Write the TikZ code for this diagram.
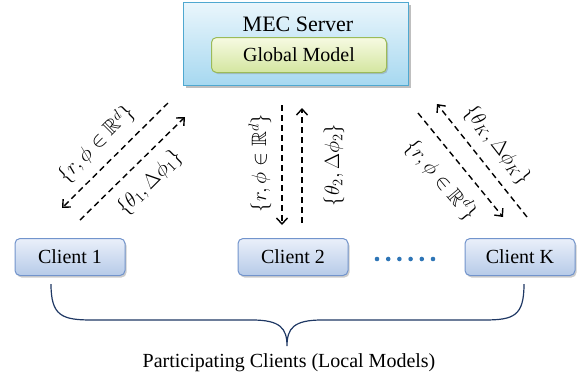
\documentclass[tikz,border=0pt]{standalone}
\usepackage{amssymb}
\usepackage{fontspec}
\setmainfont{Liberation Serif}
\usetikzlibrary{positioning,shadows,arrows.meta}

\definecolor{serverline}{HTML}{4FA8D0}
\definecolor{servertop}{HTML}{EAF6FC}
\definecolor{serverbot}{HTML}{A6D8F0}
\definecolor{modelline}{HTML}{9BBB59}
\definecolor{modeltop}{HTML}{F6FAE2}
\definecolor{modelbot}{HTML}{D3E6A0}
\definecolor{clientline}{HTML}{7294CC}
\definecolor{clienttop}{HTML}{EAF0FA}
\definecolor{clientbot}{HTML}{B6CAE8}
\definecolor{bracecol}{HTML}{1F3864}
\definecolor{dotcol}{HTML}{2E75B6}

\begin{document}
\begin{tikzpicture}[x=1pt,y=-1pt,
    serverbox/.style={
      draw=serverline,line width=1.2pt,
      top color=servertop,bottom color=serverbot,
      minimum width=225pt,minimum height=83pt,
      drop shadow={opacity=0.5,shadow xshift=2pt,shadow yshift=-2pt}
    },
    modelbox/.style={
      draw=modelline,line width=1pt,rounded corners=5pt,
      top color=modeltop,bottom color=modelbot,
      minimum width=175pt,minimum height=35pt,
      font=\fontsize{20}{24}\selectfont,
      drop shadow={opacity=0.35,shadow xshift=1.5pt,shadow yshift=-1.5pt}
    },
    clientbox/.style={
      draw=clientline,line width=1pt,rounded corners=5pt,
      top color=clienttop,bottom color=clientbot,
      minimum width=110pt,minimum height=37pt,
      font=\fontsize{20}{24}\selectfont,
      drop shadow={opacity=0.4,shadow xshift=1.5pt,shadow yshift=-2pt}
    },
    flow/.style={
      dashed,dash pattern=on 6pt off 4pt,line width=1.4pt,
      -{Straight Barb[length=6pt,width=11pt,line width=1.4pt]}
    },
    msg/.style={
      font=\fontsize{20.74}{24}\selectfont,inner sep=0pt
    }]

  \useasboundingbox (0,0) rectangle (587,384);

  % server with the global model
  \node[serverbox] (server) at (296,44) {};
  \node[font=\fontsize{22}{26}\selectfont] (servertitle) at (298,24) {MEC Server};
  \node[modelbox] (global) at (299,55) {Global Model};

  % clients
  \node[clientbox] (c1) at (70,257) {Client 1};
  \node[clientbox] (c2) at (293,257) {Client 2};
  \node[clientbox] (cK) at (520,257) {Client K};
  \foreach \i in {0,...,5}
    \fill[dotcol] (377+\i*11.2,259) circle (2.3);

  % end points of the exchanges
  \coordinate (a1s) at (168,103);  \coordinate (a1e) at (62,208);
  \coordinate (b1s) at (80,220);   \coordinate (b1e) at (185,117);
  \coordinate (a2s) at (282,105);  \coordinate (a2e) at (282,225);
  \coordinate (b2s) at (302,223);  \coordinate (b2e) at (302,108);
  \coordinate (aKs) at (418,113);  \coordinate (aKe) at (503,217);
  \coordinate (bKs) at (527,217);  \coordinate (bKe) at (437,104);

  \draw[flow] (a1s) -- (a1e);
  \draw[flow] (b1s) -- (b1e);
  \draw[flow] (a2s) -- (a2e);
  \draw[flow] (b2s) -- (b2e);
  \draw[flow] (aKs) -- (aKe);
  \draw[flow] (bKs) -- (bKe);

  \node[msg,rotate=45] (m1down) at (96,144) {$\{r,\phi\in\mathbb{R}^d\}$};
  \node[msg,rotate=45] (m1up) at (150,183) {$\{\theta_1,\Delta\phi_1\}$};
  \node[msg,rotate=90] (m2down) at (260,163) {$\{r,\phi\in\mathbb{R}^d\}$};
  \node[msg,rotate=90] (m2up) at (334,165) {$\{\theta_2,\Delta\phi_2\}$};
  \node[msg,rotate=-52] (mKup) at (497,145) {$\{\theta_K,\Delta\phi_K\}$};
  \node[msg,rotate=-50] (mKdown) at (441,180) {$\{r,\phi\in\mathbb{R}^d\}$};

  % brace under the clients
  \draw[bracecol,line width=1.2pt]
    (51,284) .. controls (51,316) and (62,320) .. (92,320) -- (252,320)
    .. controls (280,320) and (287,328) .. (287,346)
    .. controls (287,328) and (294,320) .. (322,320) -- (484,320)
    .. controls (514,320) and (524,316) .. (524,284);
  \node[font=\fontsize{20}{24}\selectfont] (caption) at (289,363) {Participating Clients (Local Models)};
\end{tikzpicture}
\end{document}
